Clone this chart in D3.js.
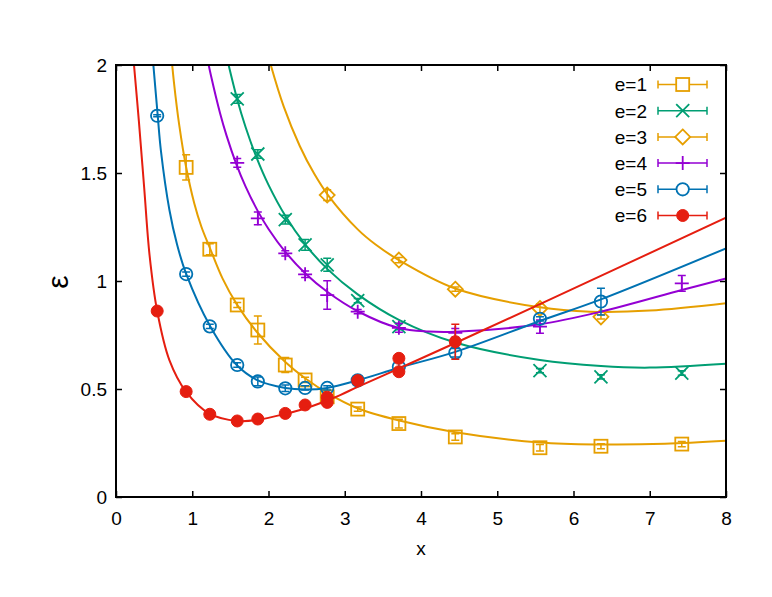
<!DOCTYPE html>
<html><head><meta charset="utf-8">
<script src="https://cdn.jsdelivr.net/npm/d3@7"></script>
<style>
body{margin:0;background:#fff}
svg{display:block}
text{font-family:"Liberation Sans",Arial,Helvetica,sans-serif;fill:#000}
</style>
</head><body>
<svg id="chart" width="772" height="597"></svg>
<script>
// ---------- data ----------
const seriesNames = ["e=1","e=2","e=3","e=4","e=5","e=6"];
const seriesColors = ["#E69F00","#009E73","#E69F00","#9400D3","#0072B2","#E51E10"];
const seriesMarkers = ["square","cross","diamond","plus","circle","dot"];

const xTicks = [0,1,2,3,4,5,6,7,8];
const xTickLabels = ["0","1","2","3","4","5","6","7","8"];
const yTicks = [0,0.5,1,1.5,2];
const yTickLabels = ["0","0.5","1","1.5","2"];

// e=1
const e1X   = [0.92,1.23,1.59,1.86,2.22,2.48,2.77,3.17,3.71,4.45,5.56,6.36,7.42];
const e1Y   = [1.526,1.147,0.889,0.773,0.611,0.542,0.464,0.407,0.340,0.278,0.228,0.235,0.245];
const e1Err = [0.058,0.025,0.012,0.065,0.035,0.012,0.010,0.010,0.020,0.015,0.015,0.012,0.012];
// e=2
const e2X   = [1.59,1.86,2.22,2.48,2.77,3.17,3.71,5.56,6.36,7.42];
const e2Y   = [1.843,1.588,1.284,1.167,1.075,0.909,0.789,0.585,0.556,0.574];
const e2Err = [0.020,0.020,0.020,0.025,0.030,0.010,0.015,0.010,0.010,0.010];
// e=3
const e3X   = [2.77,3.71,4.45,5.56,6.36];
const e3Y   = [1.398,1.097,0.962,0.873,0.834];
const e3Err = [0.025,0.012,0.010,0.020,0.010];
// e=4
const e4X   = [1.59,1.86,2.22,2.48,2.77,3.17,3.71,4.45,5.56,7.42];
const e4Y   = [1.547,1.290,1.128,1.031,0.935,0.858,0.783,0.760,0.789,0.989];
const e4Err = [0.020,0.030,0.012,0.015,0.066,0.010,0.020,0.020,0.031,0.037];
// e=5
const e5X   = [0.54,0.92,1.23,1.59,1.86,2.22,2.48,2.77,3.17,3.71,4.45,5.56,6.36];
const e5Y   = [1.765,1.032,0.790,0.611,0.535,0.503,0.505,0.505,0.540,0.603,0.668,0.825,0.905];
const e5Err = [0.005,0.010,0.010,0.010,0.020,0.015,0.010,0.010,0.010,0.020,0.020,0.010,0.062];
// e=6
const e6X   = [0.54,0.92,1.23,1.59,1.86,2.22,2.48,2.77,2.77,3.17,3.71,3.71,4.45];
const e6Y   = [0.861,0.488,0.383,0.352,0.361,0.387,0.426,0.462,0.438,0.539,0.642,0.580,0.719];
const e6Err = [0.005,0.005,0.005,0.005,0.005,0.005,0.005,0.010,0.010,0.010,0.010,0.010,0.081];

// fitted curves
const f1X = [0.70,0.76,0.83,0.918,1.027,1.12,1.237,1.40,1.583,1.845,2.22,2.48,2.78,3.16,3.70,4.45,5.56,6.36,7.2,8];
const f1Y = [2.14,1.92,1.72,1.53,1.359,1.251,1.148,1.01,0.893,0.765,0.625,0.55,0.48,0.412,0.355,0.30,0.252,0.243,0.246,0.26];
const f2X = [1.45,1.583,1.70,1.845,2.0,2.22,2.48,2.77,3.17,3.71,4.45,5.56,6.36,7.0,8];
const f2Y = [2.04,1.85,1.712,1.57,1.445,1.302,1.17,1.056,0.938,0.82,0.715,0.634,0.606,0.599,0.617];
const f3X = [1.95,2.0,2.2,2.41,2.6,2.78,3.17,3.4,3.71,4.45,5.56,6.22,7.0,8];
const f3Y = [2.106,2.037,1.807,1.625,1.496,1.398,1.239,1.17,1.097,0.965,0.878,0.858,0.863,0.897];
const f4X = [1.2,1.246,1.364,1.45,1.574,1.70,1.86,2.0,2.22,2.48,2.77,3.17,3.71,4.1,4.45,5.56,6.36,7.42,8];
const f4Y = [2.027,1.95,1.778,1.673,1.545,1.437,1.3235,1.241,1.135,1.036,0.95,0.86,0.782,0.766,0.765,0.80,0.858,0.958,1.012];
const f5X = [0.49,0.546,0.59,0.70,0.80,0.918,1.237,1.583,1.86,2.22,2.48,2.77,3.17,3.71,4.45,5.56,6.36,8];
const f5Y = [2.0,1.77,1.60,1.33,1.17,1.035,0.789,0.611,0.54,0.505,0.498,0.505,0.54,0.598,0.672,0.815,0.915,1.151];
const f6X = [0.236,0.30,0.37,0.44,0.54,0.70,0.918,1.23,1.59,1.86,2.22,2.48,2.77,2.94,3.17,3.71,4.45,5.56,8];
const f6Y = [2.0,1.74,1.43,1.12,0.861,0.634,0.488,0.385,0.352,0.357,0.385,0.41,0.447,0.472,0.51,0.595,0.713,0.893,1.293];

const seriesX = [e1X,e2X,e3X,e4X,e5X,e6X];
const seriesY = [e1Y,e2Y,e3Y,e4Y,e5Y,e6Y];
const seriesErr = [e1Err,e2Err,e3Err,e4Err,e5Err,e6Err];
const fitX = [f1X,f2X,f3X,f4X,f5X,f6X];
const fitY = [f1Y,f2Y,f3Y,f4Y,f5Y,f6Y];

// ---------- drawing ----------
(function(){
const svg = d3.select("#chart");
const L = 116, R = 726, T = 65, B = 497;
const x = d3.scaleLinear().domain([0,8]).range([L,R]);
const y = d3.scaleLinear().domain([0,2]).range([B,T]);

svg.append("rect").attr("width",772).attr("height",597).attr("fill","#fff");

svg.append("defs").append("clipPath").attr("id","plotclip")
  .append("rect").attr("x",L).attr("y",T).attr("width",R-L).attr("height",B-T);

const fontSize = 19;

// axes (ticks inward on all four sides)
const ax = svg.append("g").attr("class","axes");
const gBottom = ax.append("g").attr("transform",`translate(0,${B})`)
  .call(d3.axisBottom(x).tickValues(xTicks).tickFormat((d,i)=>xTickLabels[i]).tickSizeInner(-6).tickSizeOuter(0).tickPadding(15));
const gLeft = ax.append("g").attr("transform",`translate(${L},0)`)
  .call(d3.axisLeft(y).tickValues(yTicks).tickFormat((d,i)=>yTickLabels[i]).tickSizeInner(-6).tickSizeOuter(0).tickPadding(9));
const gTop = ax.append("g").attr("transform",`translate(0,${T})`)
  .call(d3.axisTop(x).tickValues(xTicks).tickFormat("").tickSizeInner(-6).tickSizeOuter(0));
const gRight = ax.append("g").attr("transform",`translate(${R},0)`)
  .call(d3.axisRight(y).tickValues(yTicks).tickFormat("").tickSizeInner(-6).tickSizeOuter(0));
[gBottom,gLeft,gTop,gRight].forEach(g=>{
  g.select(".domain").remove();
  g.selectAll("line").attr("stroke","#000").attr("stroke-width",1.5);
  g.selectAll("text").attr("font-size",fontSize).attr("font-family",'"Liberation Sans",Arial,sans-serif').attr("fill","#000");
});

// axis labels
svg.append("text").attr("x",421).attr("y",555).attr("text-anchor","middle").attr("font-size",fontSize).text("x");
svg.append("g").attr("transform","translate(60,282) rotate(-90)")
  .append("text").attr("text-anchor","middle").attr("dy","0.26em").attr("font-size",30).text("ε");

// marker drawing
function drawMarker(g, type, color){
  const sw = 1.8;
  if(type==="square"){
    g.append("rect").attr("x",-6.5).attr("y",-6.5).attr("width",13).attr("height",13)
      .attr("fill","none").attr("stroke",color).attr("stroke-width",sw);
  } else if(type==="cross"){
    g.append("path").attr("d","M-6.5,-6.5L6.5,6.5M-6.5,6.5L6.5,-6.5").attr("stroke",color).attr("stroke-width",sw).attr("fill","none");
  } else if(type==="diamond"){
    g.append("path").attr("d","M0,-7.5L7.5,0L0,7.5L-7.5,0Z").attr("stroke",color).attr("stroke-width",sw).attr("fill","none");
  } else if(type==="plus"){
    g.append("path").attr("d","M-7,0L7,0M0,-7L0,7").attr("stroke",color).attr("stroke-width",sw).attr("fill","none");
  } else if(type==="circle"){
    g.append("circle").attr("r",6.2).attr("fill","none").attr("stroke",color).attr("stroke-width",sw);
  } else if(type==="dot"){
    g.append("circle").attr("r",6).attr("fill",color).attr("stroke",color).attr("stroke-width",1);
  }
}

const plot = svg.append("g").attr("clip-path","url(#plotclip)");
const line = d3.line().x(d=>x(d[0])).y(d=>y(d[1])).curve(d3.curveCatmullRom.alpha(0.5));

seriesNames.forEach((name,s)=>{
  const color = seriesColors[s];
  const g = plot.append("g");
  const pts = seriesX[s].map((xv,i)=>({x:xv,y:seriesY[s][i],e:seriesErr[s][i]}));
  const eb = g.append("g").attr("stroke",color).attr("stroke-width",1.5).attr("fill","none");
  pts.forEach(p=>{
    const px = x(p.x), y1 = y(p.y-p.e), y2 = y(p.y+p.e);
    eb.append("path").attr("d",`M${px},${y1}L${px},${y2}M${px-4},${y1}L${px+4},${y1}M${px-4},${y2}L${px+4},${y2}`);
  });
  pts.forEach(p=>{
    const m = g.append("g").attr("transform",`translate(${x(p.x)},${y(p.y)})`);
    drawMarker(m, seriesMarkers[s], color);
  });
  const fpts = fitX[s].map((xv,i)=>[xv,fitY[s][i]]);
  g.append("path").datum(fpts).attr("d",line).attr("fill","none").attr("stroke",color).attr("stroke-width",2);
});

// frame
svg.append("rect").attr("x",L).attr("y",T).attr("width",R-L).attr("height",B-T)
  .attr("fill","none").attr("stroke","#000").attr("stroke-width",2);

// legend
const legY0 = 84.5, legStep = 26.2, legTextX = 647, legL = 658, legR = 707, legC = 682.7;
seriesNames.forEach((name,s)=>{
  const yy = legY0 + s*legStep, color = seriesColors[s];
  svg.append("text").attr("x",legTextX).attr("y",yy).attr("dy","0.36em")
    .attr("text-anchor","end").attr("font-size",fontSize).text(name);
  svg.append("path").attr("d",`M${legL},${yy}L${legR},${yy}M${legL},${yy-4}L${legL},${yy+4}M${legR},${yy-4}L${legR},${yy+4}`)
    .attr("stroke",color).attr("stroke-width",1.5).attr("fill","none");
  const m = svg.append("g").attr("transform",`translate(${legC},${yy})`);
  if(seriesMarkers[s]==="circle"){
    m.append("circle").attr("r",6.2).attr("fill","#fff").attr("stroke",color).attr("stroke-width",1.8);
  } else if(seriesMarkers[s]==="square"){
    m.append("rect").attr("x",-6.5).attr("y",-6.5).attr("width",13).attr("height",13).attr("fill","#fff").attr("stroke",color).attr("stroke-width",1.8);
  } else if(seriesMarkers[s]==="diamond"){
    m.append("path").attr("d","M0,-7.5L7.5,0L0,7.5L-7.5,0Z").attr("fill","#fff").attr("stroke",color).attr("stroke-width",1.8);
  } else {
    drawMarker(m, seriesMarkers[s], color);
  }
});
})();
</script>
</body></html>
